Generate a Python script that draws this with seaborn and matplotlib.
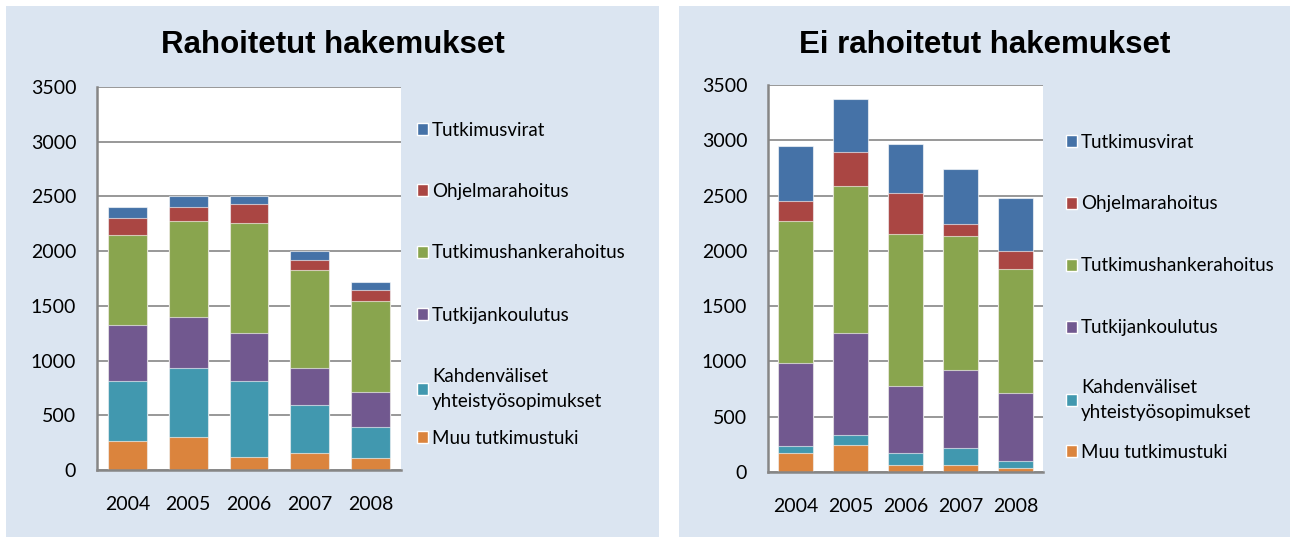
import matplotlib
matplotlib.use("Agg")
import numpy as np
import pandas as pd
import seaborn as sns
import matplotlib.pyplot as plt
from matplotlib.patches import Rectangle, Patch

years = ["2004", "2005", "2006", "2007", "2008"]
series = ["Tutkimusvirat", "Ohjelmarahoitus", "Tutkimushankerahoitus",
          "Tutkijankoulutus", "Kahdenväliset\nyhteistyösopimukset", "Muu tutkimustuki"]
colors = ["#4572A7", "#AA4643", "#89A54E", "#71588F", "#4198AF", "#DB843D"]

# Rahoitetut hakemukset
funded_muu = [265, 304, 122, 152, 107]
funded_kahd = [544, 624, 687, 441, 289]
funded_tutkijank = [515, 472, 439, 335, 319]
funded_hanke = [825, 873, 1007, 901, 828]
funded_ohjelma = [152, 131, 180, 94, 103]
funded_virat = [103, 98, 67, 77, 76]

# Ei rahoitetut hakemukset
unfunded_muu = [172, 247, 66, 66, 36]
unfunded_kahd = [60, 91, 106, 151, 66]
unfunded_tutkijank = [754, 919, 603, 708, 609]
unfunded_hanke = [1283, 1332, 1374, 1209, 1121]
unfunded_ohjelma = [181, 301, 374, 105, 163]
unfunded_virat = [501, 483, 443, 501, 485]

W, H = 1290, 538
PANEL_BG = "#DBE5F1"
GRID = "#868686"

sns.set_theme(style="white")
plt.rcParams["font.family"] = ["Lato", "DejaVu Sans"]
plt.rcParams["text.color"] = "black"

fig = plt.figure(figsize=(W / 100, H / 100), dpi=100)
fig.patch.set_facecolor("white")


def px_rect(x0, y0, x1, y1):
    # pixel box (top-left origin) -> figure fraction [l, b, w, h]
    return [x0 / W, 1 - y1 / H, (x1 - x0) / W, (y1 - y0) / H]


def draw_panel(panel_box, ax_box, title, stacks, legend_x, legend_ys):
    l, b, w, h = px_rect(*panel_box)
    fig.patches.append(Rectangle((l, b), w, h, transform=fig.transFigure,
                                 facecolor=PANEL_BG, edgecolor="none", zorder=-5))
    cx = (panel_box[0] + panel_box[2]) / 2
    fig.text(cx / W, 1 - 45 / H, title, ha="center", va="center", color="black",
             fontsize=22.5, fontweight="bold", family=["Liberation Sans", "DejaVu Sans"])

    ax = fig.add_axes(px_rect(*ax_box))
    ax.set_facecolor("white")

    # stacked bars: draw cumulative totals from the top series down
    cum = np.cumsum(np.array(stacks[::-1]), axis=0)[::-1]
    for total, c in zip(cum, colors):
        df = pd.DataFrame({"year": years, "value": total})
        sns.barplot(data=df, x="year", y="value", color=c, saturation=1,
                    width=0.64, edgecolor=(1, 1, 1, 0.6), linewidth=0.8, ax=ax, zorder=3)

    ax.set_ylim(0, 3500)
    ax.set_yticks(range(0, 3501, 500))
    ax.yaxis.grid(True, color=GRID, linewidth=1.2)
    ax.set_axisbelow(True)
    ax.set_xlabel("")
    ax.set_ylabel("")
    for s in ["top", "right"]:
        ax.spines[s].set_visible(False)
    for s in ["left", "bottom"]:
        ax.spines[s].set_color(GRID)
        ax.spines[s].set_linewidth(1.8)
        ax.spines[s].set_zorder(5)
    ax.tick_params(axis="y", length=0, pad=15, labelsize=14, labelcolor="black")
    ax.tick_params(axis="x", length=0, pad=19, labelsize=14, labelcolor="black")

    # one legend per entry so the uneven Excel spacing can be matched
    for name, c, y in zip(series, colors, legend_ys):
        leg = fig.legend(handles=[Patch(facecolor=c, label=name)], loc="center left",
                         bbox_to_anchor=(legend_x / W, 1 - y / H), bbox_transform=fig.transFigure,
                         frameon=False, fontsize=13.5, borderpad=0, borderaxespad=0,
                         handlelength=0.6, handleheight=0.6, handletextpad=0.2,
                         labelcolor="black")
        leg.get_texts()[0].set_linespacing(1.55)
    return ax


draw_panel((6, 6, 659, 537), (97, 87, 401, 470), "Rahoitetut hakemukset",
           [funded_virat, funded_ohjelma, funded_hanke, funded_tutkijank, funded_kahd, funded_muu],
           417, [130, 191, 253, 315, 389, 438])
draw_panel((679, 6, 1290, 537), (768, 85, 1043, 472), "Ei rahoitetut hakemukset",
           [unfunded_virat, unfunded_ohjelma, unfunded_hanke, unfunded_tutkijank, unfunded_kahd, unfunded_muu],
           1066, [142, 204, 266, 328, 400, 452])

fig.savefig("out.png", dpi=100, facecolor=fig.get_facecolor())
